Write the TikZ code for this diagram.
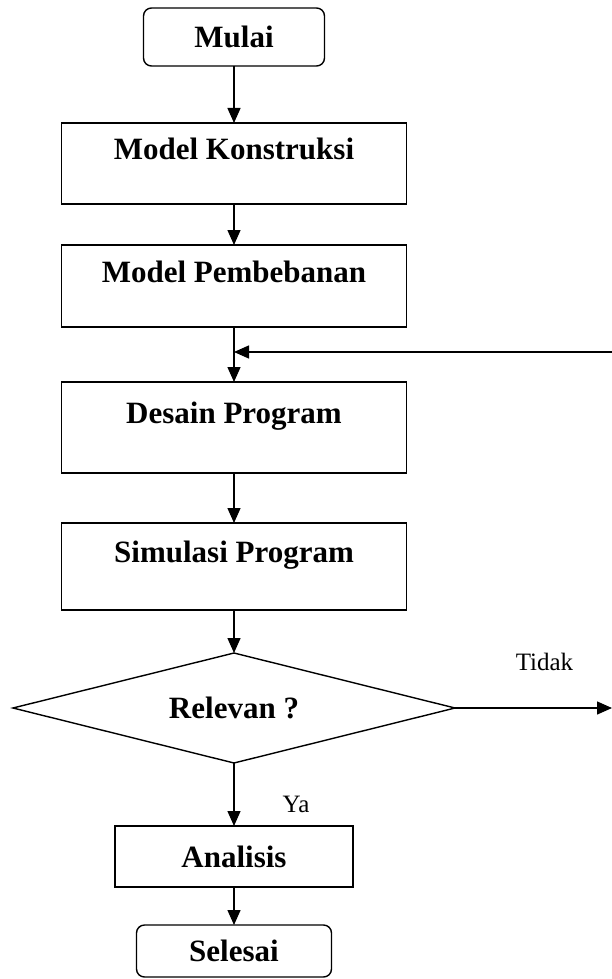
\documentclass[tikz,border=0pt]{standalone}
\usepackage{fontspec}
\setmainfont{Liberation Serif}
\usetikzlibrary{arrows.meta,positioning,shapes.geometric}

\begin{document}
\begin{tikzpicture}[
  x=1pt, y=1pt,
  bigtxt/.style={font=\fontsize{31}{37}\selectfont\bfseries},
  box/.style={draw, bigtxt, line width=1.4pt, minimum width=345pt,
    inner sep=0pt, outer sep=0pt, text height=18pt, text depth=26pt},
  term/.style={draw, bigtxt, line width=1.4pt, rounded corners=8pt, inner sep=0pt, outer sep=0pt},
  decide/.style={diamond, aspect=4, draw, bigtxt, line width=1.4pt, minimum width=442pt,
    minimum height=110pt, inner sep=0pt, outer sep=0pt},
  arr/.style={-{Triangle[length=15pt,width=13pt]}, line width=1.4pt},
  lbl/.style={font=\fontsize{25}{30}\selectfont, inner sep=0pt},
]
\useasboundingbox (0,0) rectangle (612,-979);
\node[term, minimum width=181pt, minimum height=58pt] (mulai) at (234,-37) {Mulai};
\node[box, minimum height=81pt, below=57pt of mulai] (konstruksi) {Model Konstruksi};
\node[box, minimum height=82pt, below=41pt of konstruksi] (beban) {Model Pembebanan};
\node[box, minimum height=91pt, below=55pt of beban] (desain) {Desain Program};
\node[box, minimum height=87pt, below=50pt of desain] (simulasi) {Simulasi Program};
\node[decide, below=43pt of simulasi] (relevan) {Relevan ?};
\node[box, text height=, text depth=, minimum width=238pt, minimum height=61pt,
  below=63pt of relevan] (analisis) {Analisis};
\node[term, minimum width=195pt, minimum height=52pt, below=38pt of analisis] (selesai) {Selesai};
\coordinate (balik) at (612,-352);
\coordinate (tidak) at (612,-708);
\draw[arr] (mulai) -- (konstruksi);
\draw[arr] (konstruksi) -- (beban);
\draw[arr] (beban) -- (desain);
\draw[arr] (balik) -- (balik -| beban.south);
\draw[arr] (desain) -- (simulasi);
\draw[arr] (simulasi) -- (relevan);
\draw[arr] (relevan.east) -- node[lbl, pos=0.57, above=37pt] {Tidak} (relevan.east -| tidak);
\draw[arr] (relevan) -- node[lbl, pos=0.65, right=48pt] {Ya} (analisis);
\draw[arr] (analisis) -- (selesai);
\end{tikzpicture}
\end{document}
